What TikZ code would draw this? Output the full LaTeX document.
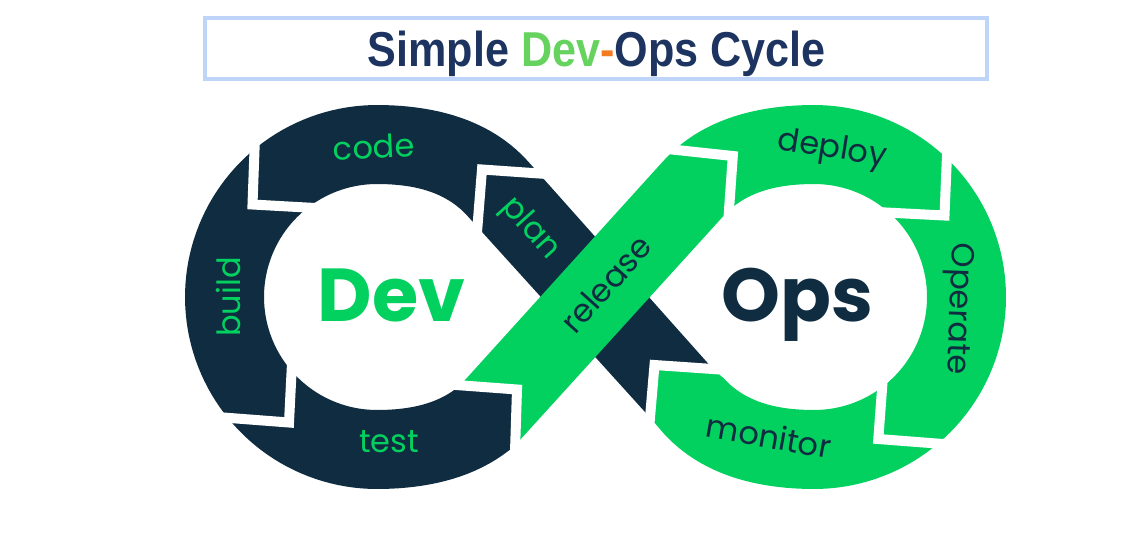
\documentclass[tikz,border=0pt]{standalone}
\usepackage{fontspec}
\setmainfont{Liberation Sans}
\newfontfamily\lblfont{Poppins}
\newfontfamily\titlefont{Liberation Sans}
\usetikzlibrary{calc}
\definecolor{navy}{HTML}{0F2C41}
\definecolor{mint}{HTML}{03D15F}
\definecolor{ttlnavy}{HTML}{1D3461}
\definecolor{ttlgreen}{HTML}{66D35E}
\definecolor{ttlorange}{HTML}{F47A20}
\definecolor{framecol}{HTML}{BED4F9}
\begin{document}
\begin{tikzpicture}[x=1pt,y=-1pt,
  declare function={
    ss(\p)=(\p<=42)?1:((\p>=90)?0:(cos(90*(\p-42)/48))^2);
    roL(\t)=192+11*ss(acos(cos(\t)));
    riL(\t)=113+8.5*ss(acos(cos(\t)));
    roR(\t)=192+11*ss(180-acos(cos(\t)));
    riR(\t)=113+8.5*ss(180-acos(cos(\t)));
  },
  gap/.style={draw=white, line width=10pt, line join=miter},
  lbl/.style={font=\lblfont\fontsize{32}{32}\selectfont, inner sep=0pt},
  big/.style={font=\lblfont\bfseries\fontsize{75}{75}\selectfont, inner sep=0pt, anchor=base},
]
\fill[white] (0,0) rectangle (1145,552);
\useasboundingbox (0,0) rectangle (1145,552);

% title frame and heading
\draw[framecol, line width=4pt] (205,18) rectangle (987,79);
\node[anchor=base, inner sep=0pt] (title) at (596.5,66)
  {\scalebox{0.88}[1]{\titlefont\bfseries\fontsize{49}{49}\selectfont
   \textcolor{ttlnavy}{Simple }\textcolor{ttlgreen}{Dev}\textcolor{ttlorange}{-}\textcolor{ttlnavy}{Ops Cycle}}};

% chevron joints between the stages: outer end, corner, inner end
\coordinate (g1o) at (254.5,150);  \coordinate (g1c) at (252.5,204.5); \coordinate (g1i) at (310,207.7);
\coordinate (g2o) at (230,418);    \coordinate (g2c) at (289,422.5);   \coordinate (g2i) at (291.7,369);
\coordinate (g3o) at (515.2,445.2);\coordinate (g3c) at (517,389.5);   \coordinate (g3i) at (460.2,385.3);
\coordinate (g4o) at (536.7,173.3);\coordinate (g4c) at (482,169.5);   \coordinate (g4i) at (477.5,226);
\coordinate (g5o) at (676.7,150);  \coordinate (g5c) at (732.8,156);   \coordinate (g5i) at (729,210);
\coordinate (g6o) at (946.7,162);  \coordinate (g6c) at (944.5,215.5); \coordinate (g6i) at (886,212.5);
\coordinate (g7o) at (934,443.3);  \coordinate (g7c) at (878.3,439);   \coordinate (g7i) at (882.5,382.5);
\coordinate (g8o) at (650,417.5);  \coordinate (g8c) at (654.5,365);   \coordinate (g8i) at (713,369);
\coordinate (rfoot) at (723.7,215.7);

% dark loop (Dev side) with its diagonal band
\fill[navy] plot[domain=47:318, samples=120, variable=\t] ({377+roL(\t)*cos(\t)},{297+roL(\t)*sin(\t)})
  -- (g8i) -- (g8c) -- (g8o)
  -- plot[domain=318:47, samples=120, variable=\t] ({377+riL(\t)*cos(\t)},{297+riL(\t)*sin(\t)})
  -- (g3c) -- cycle;

% green band and loop (Ops side)
\fill[mint] (g3o) -- (rfoot)
  -- plot[domain=222:498, samples=140, variable=\t] ({814+riR(\t)*cos(\t)},{297+riR(\t)*sin(\t)})
  -- (g8i) -- (g8c) -- (g8o)
  -- plot[domain=138:-138, samples=140, variable=\t] ({814+roR(\t)*cos(\t)},{297+roR(\t)*sin(\t)})
  -- (g3i) -- (g3c) -- cycle;

% white gaps
\foreach \g in {1,...,8}{
  \draw[gap] ($(g\g c)!1.3!(g\g o)$) -- (g\g c) -- ($(g\g c)!1.3!(g\g i)$);
}

% stage labels
\node[lbl, text=mint, rotate=3]   (lcode)    at (374,147) {code};
\node[lbl, text=mint, rotate=90]  (lbuild)   at (228,297) {build};
\node[lbl, text=mint]             (ltest)    at (389,442) {test};
\node[lbl, text=mint, rotate=-48] (lplan)    at (530,229) {plan};
\node[lbl, text=navy, rotate=48]  (lrelease) at (606,284) {release};
\node[lbl, text=navy, rotate=-9]  (ldeploy)  at (832,150) {deploy};
\node[lbl, text=navy, rotate=-92] (loperate) at (957,309) {Operate};
\node[lbl, text=navy, rotate=-10] (lmonitor) at (769,436) {monitor};

\node[big, text=mint] (dev) at (391.5,321) {Dev};
\node[big, text=navy] (ops) at (797.5,321) {Ops};
\end{tikzpicture}
\end{document}
